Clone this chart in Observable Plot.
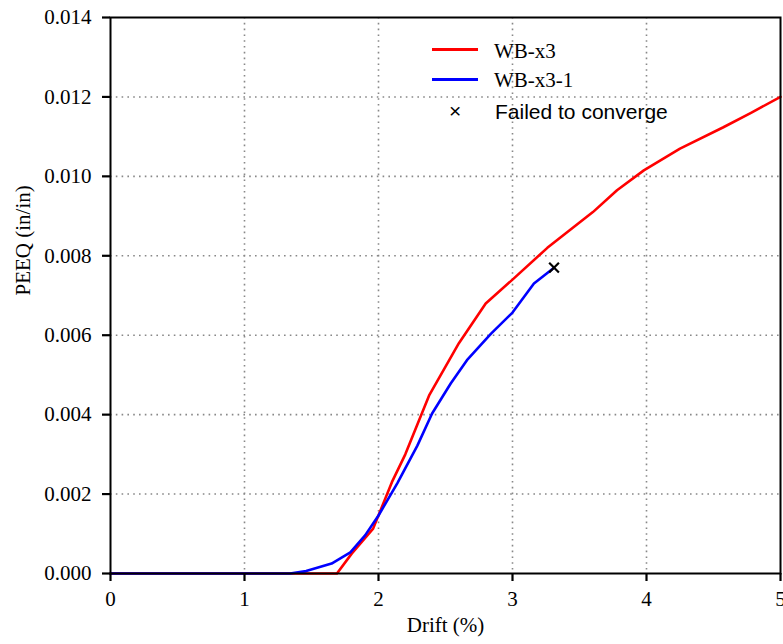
<!DOCTYPE html>
<html>
<head>
<meta charset="utf-8">
<script src="https://cdn.jsdelivr.net/npm/d3@7"></script>
<script src="https://cdn.jsdelivr.net/npm/@observablehq/plot@0.6"></script>
<style>
  html, body { margin: 0; padding: 0; background: #fff; }
  #wrap { position: relative; width: 783px; height: 644px; }
  #wrap svg text { font-family: "Liberation Serif", "Times New Roman", serif; }
  .lg { position: absolute; font-size: 21px; color: #000; white-space: nowrap; line-height: 1; }
  .serif { font-family: "Liberation Serif", "Times New Roman", serif; }
  .sans { font-family: "Liberation Sans", Arial, sans-serif; }
  .sw { position: absolute; height: 3px; width: 46px; }
</style>
</head>
<body>
<div id="wrap"></div>
<script>
// Data
const redDrift = [0, 1.69, 1.8, 1.96, 2.1, 2.2, 2.38, 2.6, 2.8, 3.0, 3.26, 3.6, 3.78, 3.98, 4.25, 4.57, 4.78, 5.0];
const redPeeq  = [0, 0, 0.0005, 0.00113, 0.0023, 0.003, 0.0045, 0.0058, 0.0068, 0.0074, 0.0082, 0.0091, 0.00965, 0.01015, 0.0107, 0.01123, 0.0116, 0.012];
const blueDrift = [0, 1.34, 1.46, 1.65, 1.79, 1.9, 2.0, 2.14, 2.29, 2.4, 2.54, 2.66, 2.84, 3.0, 3.16, 3.31];
const bluePeeq  = [0, 0, 0.00006, 0.00025, 0.00053, 0.00096, 0.00146, 0.00227, 0.00322, 0.00403, 0.00479, 0.00537, 0.00604, 0.00657, 0.0073, 0.0077];
const failDrift = [3.31];
const failPeeq = [0.0077];
const xTicks = [0, 1, 2, 3, 4, 5];
const yTicks = [0, 0.002, 0.004, 0.006, 0.008, 0.010, 0.012, 0.014];
const seriesNames = ["WB-x3", "WB-x3-1", "Failed to converge"];
const seriesColors = ["#ff0000", "#0000ff", "#000000"];
const xLabel = "Drift (%)";
const yLabel = "PEEQ (in/in)";

const red = redDrift.map((x, i) => ({x, y: redPeeq[i]}));
const blue = blueDrift.map((x, i) => ({x, y: bluePeeq[i]}));
const fail = failDrift.map((x, i) => ({x, y: failPeeq[i]}));

const serif = "Liberation Serif, Times New Roman, serif";

const chart = Plot.plot({
  width: 783,
  height: 644,
  marginLeft: 110,
  marginRight: 3,
  marginTop: 17,
  marginBottom: 71,
  style: { fontFamily: serif, fontSize: "21px", color: "#000", background: "#fff", overflow: "visible" },
  x: { domain: [0, 5] },
  y: { domain: [0, 0.014] },
  marks: [
    Plot.ruleX(xTicks.slice(1, -1), { stroke: "#888", strokeWidth: 1.6, strokeDasharray: "1.6,4.2" }),
    Plot.ruleY(yTicks.slice(1, -1), { stroke: "#888", strokeWidth: 1.6, strokeDasharray: "1.6,4.2" }),
    Plot.line(red, { x: "x", y: "y", stroke: seriesColors[0], strokeWidth: 2.6 }),
    Plot.line(blue, { x: "x", y: "y", stroke: seriesColors[1], strokeWidth: 2.6 }),
    Plot.dot(fail, { x: "x", y: "y", symbol: "times", r: 4.5, stroke: seriesColors[2], strokeWidth: 2.2 }),
    Plot.frame({ stroke: "#000", strokeWidth: 2 }),
    Plot.axisX({ ticks: xTicks, tickFormat: d3.format("d"), tickSize: 8, tickPadding: 10, strokeWidth: 2.2,
                 fontSize: 21, fontFamily: serif, label: null }),
    Plot.axisY({ ticks: yTicks, tickFormat: d3.format(".3f"), tickSize: 8, tickPadding: 11, strokeWidth: 2.2,
                 fontSize: 21, fontFamily: serif, label: null }),
    Plot.text([xLabel], { frameAnchor: "bottom", dy: 58, fontSize: 21, fontFamily: serif, fill: "#000" }),
    Plot.text([yLabel], { frameAnchor: "left", dx: -87, rotate: -90, fontSize: 21, fontFamily: serif, fill: "#000" })
  ]
});

const wrap = document.getElementById("wrap");
wrap.appendChild(chart);

// Legend
function addSwatch(color, top) {
  const s = document.createElement("div");
  s.className = "sw";
  s.style.left = "432px";
  s.style.top = (top - 1.5) + "px";
  s.style.background = color;
  wrap.appendChild(s);
}
function addText(txt, cls, left, top) {
  const t = document.createElement("div");
  t.className = "lg " + cls;
  t.textContent = txt;
  t.style.left = left + "px";
  t.style.top = top + "px";
  wrap.appendChild(t);
}
addSwatch(seriesColors[0], 49);
addText(seriesNames[0], "serif", 494, 41);
addSwatch(seriesColors[1], 79);
addText(seriesNames[1], "serif", 494, 70);
addText("\u00d7", "sans", 449, 100);
addText(seriesNames[2], "sans", 495, 101);
</script>
</body>
</html>
